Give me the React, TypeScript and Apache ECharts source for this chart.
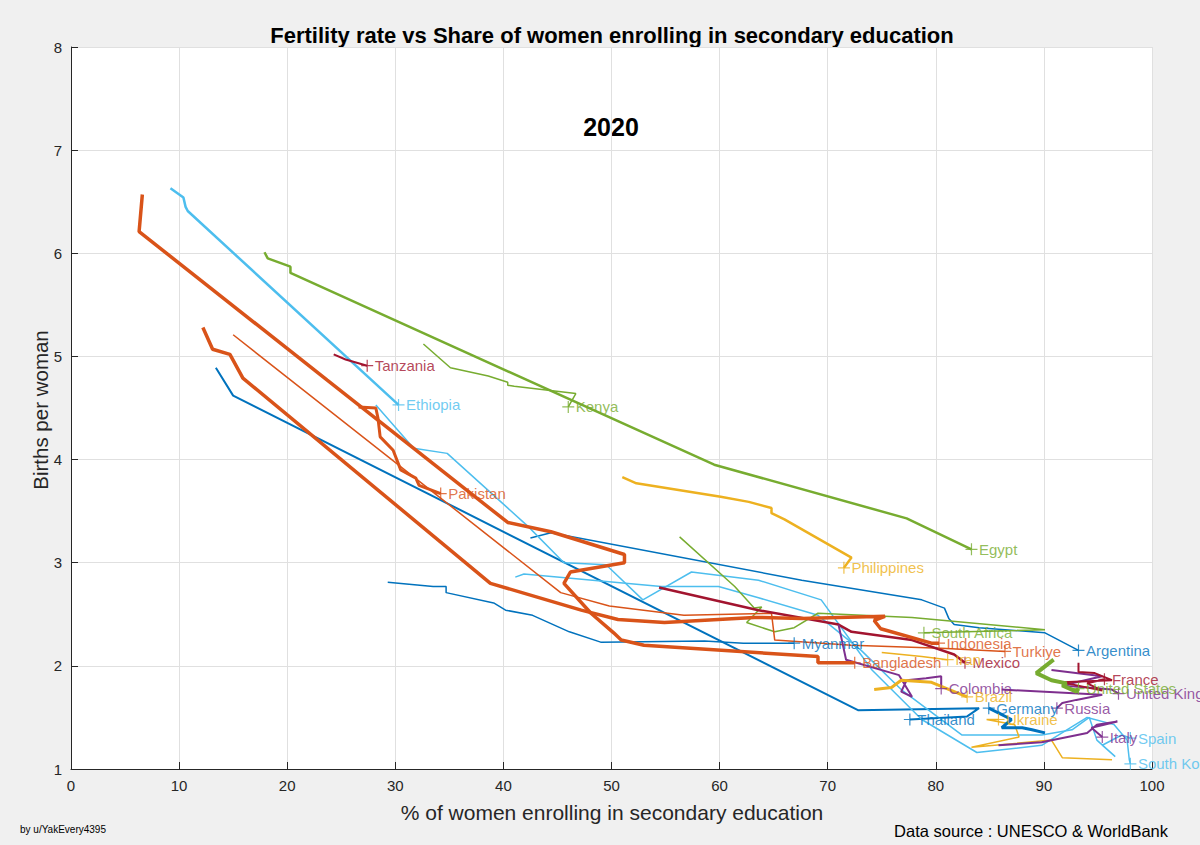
import * as echarts from 'echarts'
import React, { useEffect, useRef } from 'react'

// MATLAB default colour order
const BLUE = '#0072BD'
const ORANGE = '#D95319'
const YELLOW = '#EDB120'
const PURPLE = '#7E2F8E'
const GREEN = '#77AC30'
const LIGHTBLUE = '#4DBEEE'
const DARKRED = '#A2142F'

const xTicks = [0, 10, 20, 30, 40, 50, 60, 70, 80, 90, 100]
const yTicks = [1, 2, 3, 4, 5, 6, 7, 8]

// [% of women enrolling in secondary education, births per woman]
const bangladesh = [[6.6, 6.57], [6.3, 6.21], [23.7, 4.77], [40.4, 3.39], [44.4, 3.3], [51.2, 3.08], [51.2, 3.0], [46.2, 2.91], [45.6, 2.8], [48.1, 2.51], [50.2, 2.32], [50.9, 2.25], [53.0, 2.2], [69.1, 2.09], [69.1, 2.03], [72.5, 2.03]]
const indonesia = [[12.2, 5.28], [13.1, 5.07], [14.7, 5.02], [15.9, 4.79], [38.8, 2.8], [47.2, 2.54], [50.6, 2.45], [54.9, 2.42], [63.2, 2.47], [67.6, 2.46], [75.3, 2.48], [74.3, 2.44], [74.9, 2.36], [79.6, 2.22], [80.3, 2.22]]
const turkiye = [[15.0, 5.21], [45.3, 2.71], [49.8, 2.58], [56.7, 2.49], [64.8, 2.51], [65.1, 2.25], [72.2, 2.2], [80.5, 2.17], [86.4, 2.14]]
const pakistan = [[26.6, 4.51], [28.2, 4.5], [28.4, 4.4], [28.6, 4.22], [29.8, 4.09], [30.5, 3.9], [31.9, 3.82], [32.2, 3.75], [34.2, 3.67]]
const tanzania = [[24.3, 5.02], [25.4, 4.97], [27.4, 4.91]]
const ethiopia = [[9.2, 6.63], [10.4, 6.54], [10.6, 6.45], [10.8, 6.41], [30.3, 4.53]]
const egypt = [[17.9, 6.01], [18.2, 5.95], [20.3, 5.87], [20.3, 5.81], [59.5, 3.95], [77.3, 3.43], [83.3, 3.13]]
const kenya = [[32.6, 5.12], [35.1, 4.89], [38.6, 4.81], [40.4, 4.75], [40.4, 4.72], [41.0, 4.71], [46.7, 4.64], [46.0, 4.51]]
const philippines = [[51.0, 3.83], [52.3, 3.77], [60.1, 3.64], [62.7, 3.59], [64.8, 3.53], [64.8, 3.48], [66.0, 3.42], [72.2, 3.05], [71.5, 2.95]]
const thailand = [[13.4, 4.89], [15.0, 4.62], [72.8, 1.57], [84.0, 1.59], [82.9, 1.51], [77.6, 1.48]]
const myanmar = [[29.3, 2.81], [33.5, 2.77], [34.7, 2.77], [34.7, 2.71], [39.1, 2.61], [40.2, 2.54], [42.7, 2.49], [46.1, 2.33], [49.0, 2.23], [58.6, 2.24], [62.2, 2.22], [66.9, 2.22]]
const argentina = [[42.5, 3.24], [44.4, 3.29], [67.6, 2.83], [78.7, 2.64], [80.8, 2.56], [81.2, 2.46], [81.7, 2.4], [84.0, 2.37], [90.1, 2.32], [93.2, 2.15]]
const germany = [[90.1, 1.35], [88.9, 1.38], [88.0, 1.4], [86.1, 1.4], [87.0, 1.48], [84.9, 1.59]]
const mexico = [[54.4, 2.76], [63.6, 2.54], [71.0, 2.4], [72.2, 2.33], [77.8, 2.25], [81.7, 2.11], [82.7, 2.03]]
const southAfrica = [[56.3, 3.25], [61.4, 2.77], [63.2, 2.56], [63.9, 2.57], [62.5, 2.42], [65.1, 2.33], [66.9, 2.37], [69.1, 2.51], [77.8, 2.47], [90.1, 2.35], [78.9, 2.32]]
const colombia = [[71.0, 2.4], [71.7, 2.06], [76.6, 1.91], [77.8, 1.7], [76.8, 1.75], [77.3, 1.86], [79.1, 1.88], [80.5, 1.9], [80.5, 1.78]]
const brazil = [[74.3, 1.77], [75.9, 1.79], [76.8, 1.86], [79.6, 1.84], [82.9, 1.7]]
const iran = [[75.0, 2.13], [78.7, 2.09], [81.1, 2.06]]
const ukraine = [[96.3, 1.09], [91.7, 1.11], [90.7, 1.28], [83.3, 1.21], [87.7, 1.31], [87.3, 1.43], [84.7, 1.48], [85.8, 1.48]]
const russia = [[86.1, 1.77], [95.4, 1.72], [93.0, 1.67], [91.7, 1.64], [91.2, 1.59]]
const unitedKingdom = [[90.7, 1.96], [95.4, 1.9], [91.7, 1.81], [96.3, 1.77], [96.9, 1.73]]
const france = [[93.2, 2.03], [93.2, 1.94], [94.7, 1.93], [96.3, 1.86], [91.7, 1.84], [95.4, 1.76], [94.0, 1.83], [95.6, 1.87]]
const unitedStates = [[90.9, 2.06], [89.3, 1.93], [90.7, 1.86], [92.1, 1.83], [91.7, 1.81], [93.0, 1.75], [93.2, 1.78]]
const italy = [[85.8, 1.23], [89.8, 1.26], [94.0, 1.35], [94.9, 1.43], [96.8, 1.46], [94.4, 1.4], [95.4, 1.31]]
const southKorea = [[28.2, 4.53], [31.7, 4.11], [34.8, 4.06], [42.3, 3.35], [45.6, 3.0], [49.5, 2.98], [52.9, 2.64], [57.4, 2.91], [63.6, 2.83], [69.4, 2.64], [74.1, 1.96], [78.7, 1.48], [83.8, 1.16], [89.8, 1.23], [94.0, 1.5], [96.5, 1.43], [97.7, 1.28], [97.9, 1.09], [98.0, 1.05]]
const spain = [[41.1, 2.86], [41.9, 2.89], [54.6, 2.77], [59.9, 2.77], [63.6, 2.66], [69.1, 2.49], [73.1, 2.15], [76.8, 1.77], [82.4, 1.33], [89.8, 1.33], [92.6, 1.38], [94.2, 1.5], [94.9, 1.28], [96.6, 1.12], [95.4, 1.23], [97.2, 1.33], [98.0, 1.3]]

const countries = [
  { name: 'Ethiopia', data: ethiopia, color: LIGHTBLUE, width: 2.5 },
  { name: 'Egypt', data: egypt, color: GREEN, width: 2.5 },
  { name: 'Kenya', data: kenya, color: GREEN, width: 1.5 },
  { name: 'Tanzania', data: tanzania, color: DARKRED, width: 2 },
  { name: 'Thailand', data: thailand, color: BLUE, width: 2 },
  { name: 'Myanmar', data: myanmar, color: BLUE, width: 1.5 },
  { name: 'Argentina', data: argentina, color: BLUE, width: 1.5 },
  { name: 'South Korea', data: southKorea, color: LIGHTBLUE, width: 1.5 },
  { name: 'Spain', data: spain, color: LIGHTBLUE, width: 1.5 },
  { name: 'Philippines', data: philippines, color: YELLOW, width: 2.5 },
  { name: 'South Africa', data: southAfrica, color: GREEN, width: 1.5 },
  { name: 'Turkiye', data: turkiye, color: ORANGE, width: 1.5 },
  { name: 'Mexico', data: mexico, color: DARKRED, width: 2.5 },
  { name: 'Iran', data: iran, color: YELLOW, width: 1.5 },
  { name: 'Colombia', data: colombia, color: PURPLE, width: 2 },
  { name: 'Brazil', data: brazil, color: YELLOW, width: 3 },
  { name: 'Ukraine', data: ukraine, color: YELLOW, width: 1.5 },
  { name: 'Italy', data: italy, color: PURPLE, width: 2 },
  { name: 'Russia', data: russia, color: PURPLE, width: 2 },
  { name: 'United Kingdom', data: unitedKingdom, color: PURPLE, width: 2 },
  { name: 'France', data: france, color: DARKRED, width: 2 },
  { name: 'Germany', data: germany, color: BLUE, width: 3 },
  { name: 'United States', data: unitedStates, color: GREEN, width: 4 },
  { name: 'Pakistan', data: pakistan, color: ORANGE, width: 3 },
  { name: 'Indonesia', data: indonesia, color: ORANGE, width: 3.5 },
  { name: 'Bangladesh', data: bangladesh, color: ORANGE, width: 3.5 }
]

const FONT = 'Arial, "Liberation Sans", Helvetica, sans-serif'
const INK = '#262626'

const App: React.FC = () => {
  const chartRef = useRef<HTMLDivElement>(null)

  useEffect(() => {
    document.body.style.margin = '0'
    const chart = echarts.init(chartRef.current!, null, { renderer: 'svg' })

    const lines = countries.map((c) => ({
      type: 'line',
      name: c.name,
      data: c.data,
      symbol: 'none',
      showSymbol: false,
      silent: true,
      lineStyle: { color: c.color, width: c.width },
      itemStyle: { color: c.color },
      z: 2
    }))

    // "+" marker and country name at the last point of each path
    const ends = {
      type: 'scatter',
      name: 'labels',
      symbol: 'path://M6,0L6,12M0,6L12,6',
      symbolSize: 12,
      silent: true,
      z: 5,
      data: countries.map((c) => ({
        name: c.name,
        value: c.data[c.data.length - 1],
        itemStyle: { color: 'none', borderColor: c.color, borderWidth: 1.2 },
        label: { color: c.color }
      })),
      label: {
        show: true,
        position: 'right',
        distance: -1,
        formatter: '{b}',
        fontSize: 15,
        fontFamily: FONT
      }
    }

    chart.setOption({
      animation: false,
      backgroundColor: '#f0f0f0',
      grid: {
        left: 71,
        right: 48,
        top: 47,
        bottom: 76,
        show: true,
        backgroundColor: '#ffffff',
        borderWidth: 0
      },
      xAxis: {
        type: 'value',
        min: xTicks[0],
        max: xTicks[xTicks.length - 1],
        interval: 10,
        axisLine: { show: true, lineStyle: { color: INK, width: 1 } },
        axisTick: { show: true, inside: true, length: 7, lineStyle: { color: INK } },
        axisLabel: { color: INK, fontSize: 15, fontFamily: FONT, margin: 9 },
        splitLine: { show: true, lineStyle: { color: '#e0e0e0', width: 1 } }
      },
      yAxis: {
        type: 'value',
        min: yTicks[0],
        max: yTicks[yTicks.length - 1],
        interval: 1,
        axisLine: { show: true, lineStyle: { color: INK, width: 1 } },
        axisTick: { show: true, inside: true, length: 7, lineStyle: { color: INK } },
        axisLabel: { color: INK, fontSize: 15, fontFamily: FONT, margin: 9 },
        splitLine: { show: true, lineStyle: { color: '#e0e0e0', width: 1 } }
      },
      series: [...lines, ends],
      graphic: [
        {
          type: 'text',
          x: 612,
          y: 35,
          style: {
            text: 'Fertility rate vs Share of women enrolling in secondary education',
            fill: '#000',
            fontSize: 22,
            fontWeight: 'bold',
            fontFamily: FONT,
            textAlign: 'center',
            textVerticalAlign: 'middle'
          }
        },
        {
          type: 'text',
          x: 611,
          y: 127,
          style: {
            text: '2020',
            fill: '#000',
            fontSize: 25,
            fontWeight: 'bold',
            fontFamily: FONT,
            textAlign: 'center',
            textVerticalAlign: 'middle'
          }
        },
        {
          type: 'text',
          x: 612,
          y: 812,
          style: {
            text: '% of women enrolling in secondary education',
            fill: INK,
            fontSize: 21,
            fontFamily: FONT,
            textAlign: 'center',
            textVerticalAlign: 'middle'
          }
        },
        {
          type: 'text',
          x: 40,
          y: 410,
          rotation: Math.PI / 2,
          style: {
            text: 'Births per woman',
            fill: INK,
            fontSize: 20.5,
            fontFamily: FONT,
            textAlign: 'center',
            textVerticalAlign: 'middle'
          }
        },
        {
          type: 'text',
          x: 20,
          y: 829,
          style: {
            text: 'by u/YakEvery4395',
            fill: '#000',
            fontSize: 10,
            fontFamily: FONT,
            textAlign: 'left',
            textVerticalAlign: 'middle'
          }
        },
        {
          type: 'text',
          x: 1168,
          y: 831,
          style: {
            text: 'Data source : UNESCO & WorldBank',
            fill: '#000',
            fontSize: 16.5,
            fontFamily: FONT,
            textAlign: 'right',
            textVerticalAlign: 'middle'
          }
        }
      ]
    })

    return () => {
      chart.dispose()
    }
  }, [])

  return <div ref={chartRef} style={{ width: 1200, height: 845 }} />
}

export default App
